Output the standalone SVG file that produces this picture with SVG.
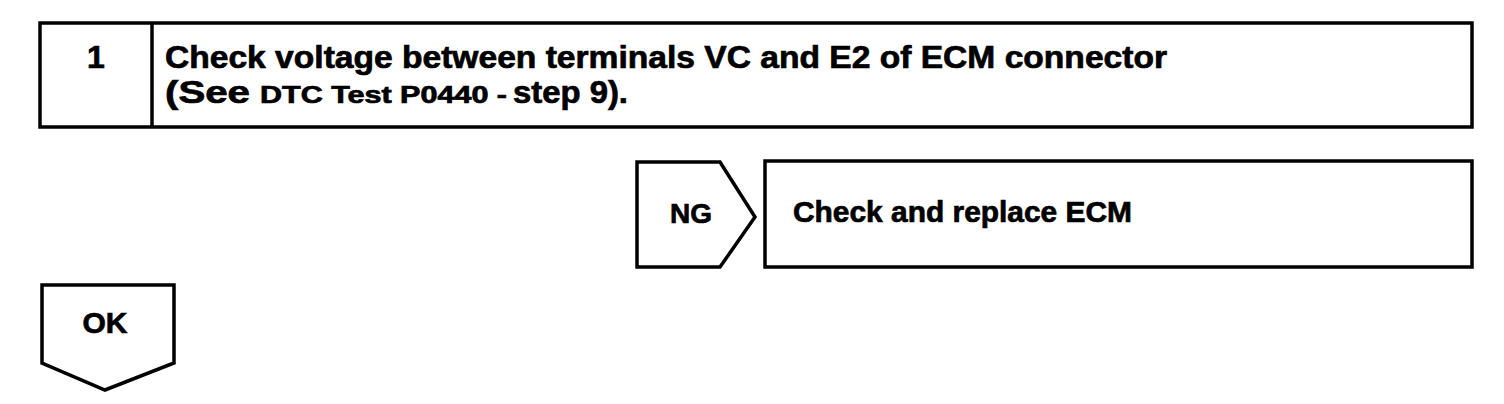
<svg xmlns="http://www.w3.org/2000/svg" width="1504" height="404" viewBox="0 0 1504 404">
<style>
.box{fill:#fff;stroke:#000;stroke-width:3.5;stroke-linejoin:miter}
.t{font-family:"Liberation Sans",Arial,Helvetica,sans-serif;font-weight:bold;fill:#000;stroke:#000;stroke-width:0.7}
</style>
<rect width="1504" height="404" fill="#fff"/>
<g id="step1">
<rect class="box" x="40" y="23" width="1432" height="104"/>
<line x1="152" y1="23" x2="152" y2="127" stroke="#000" stroke-width="3.5"/>
<text class="t" x="96" y="68" font-size="32" text-anchor="middle">1</text>
<text class="t" x="165" y="68" font-size="31" textLength="1002" lengthAdjust="spacingAndGlyphs">Check voltage between terminals VC and E2 of ECM connector</text>
<text class="t" y="103"><tspan x="165" font-size="31" textLength="85" lengthAdjust="spacingAndGlyphs">(See</tspan><tspan x="260" font-size="23" textLength="247" lengthAdjust="spacingAndGlyphs">DTC Test P0440 -</tspan><tspan x="513" font-size="31" textLength="115" lengthAdjust="spacingAndGlyphs">step 9).</tspan></text>
</g>
<g id="ng">
<polygon class="box" points="637,162 720,162 755,217 720,267 637,267"/>
<text class="t" x="691" y="223" font-size="28" text-anchor="middle">NG</text>
</g>
<g id="replace">
<rect class="box" x="765" y="161" width="707" height="106"/>
<text class="t" x="793" y="222" font-size="29" textLength="339" lengthAdjust="spacingAndGlyphs">Check and replace ECM</text>
</g>
<g id="ok">
<polygon class="box" points="42,285 174,285 174,363 105,390 42,363"/>
<text class="t" x="105" y="333" font-size="30" text-anchor="middle">OK</text>
</g>
<g id="connectors"></g>
</svg>
